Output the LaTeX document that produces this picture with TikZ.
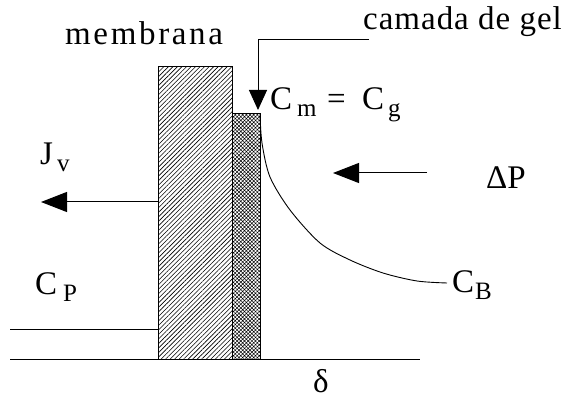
\documentclass[tikz,border=0pt]{standalone}
\usepackage{fontspec}
\setmainfont{Liberation Serif}
\newfontfamily\widefont{Liberation Serif}[LetterSpace=8]
\newfontfamily\tightfont{Liberation Serif}[LetterSpace=3]
\usetikzlibrary{arrows.meta,patterns.meta}
\newcommand\lowsub[1]{\raisebox{-7pt}{\fontsize{25}{25}\selectfont #1}}
\newcommand\at[2]{\rlap{#1}\hspace{#2}}
\tikzset{
  lbl/.style={font=\fontsize{33}{36}\selectfont, inner sep=0pt, anchor=base west},
  ln/.style={line width=1pt},
  bigtri/.style={-{Triangle[length=26pt,width=20pt]}},
  smalltri/.style={-{Triangle[length=20pt,width=18pt]}},
  layer/.style={draw, line width=1pt, inner sep=0pt, outer sep=0pt, anchor=south west},
}
\begin{document}
\begin{tikzpicture}[x=1pt,y=-1pt]
\useasboundingbox (0,0) rectangle (563,398);
% membrane and gel layer
\node[layer, minimum width=74pt, minimum height=293pt,
      pattern={Lines[angle=45,distance=3.2pt,line width=0.6pt]}] (mem) at (158,360) {};
\node[layer, minimum width=28pt, minimum height=246pt,
      pattern={Hatch[angle=45,distance=2.6pt,line width=0.5pt]}] (gel) at (232,360) {};
% base line and permeate level
\coordinate (bl) at (10,360);
\coordinate (br) at (420,360);
\draw[ln] (bl) -- (br);
\coordinate (cpl) at (10,330);
\draw[ln] (cpl) -- (mem.west |- cpl);
% flux arrows
\coordinate (jvtip) at (41,202);
\draw[ln, bigtri] (mem.west |- jvtip) -- (jvtip);
\coordinate (dps) at (427,173);
\coordinate (dpt) at (333,173);
\draw[ln, bigtri] (dps) -- (dpt);
% gel leader
\coordinate (gl) at (369,40);
\coordinate (gtip) at (258,110);
\draw[ln, smalltri] (gl) -| (gtip);
% concentration profile
\coordinate (cbend) at (447,283);
\draw[line width=0.9pt] plot[smooth] coordinates {(gel.north east) (262,143) (270,177) (290,210) (320,243) (350,260) (383,273) (417,281) (cbend)};
% labels
\node[lbl] (tmem) at (65,45) {\widefont membrana};
\node[lbl] (tgel) at (363,30) {\tightfont camada de gel};
\node[lbl] (tcm) at (270,110) {\at{C}{27pt}\at{\lowsub{m}}{30pt}\at{=}{35pt}\at{C}{26pt}\lowsub{g}};
\node[lbl] (tjv) at (40,165) {\at{J}{17pt}\lowsub{v}};
\node[lbl] (tdp) at (486,189) {ΔP};
\node[lbl] (tcb) at (452,293) {\at{C}{23pt}\lowsub{B}};
\node[lbl] (tcp) at (35,295) {\at{C}{28pt}\lowsub{P}};
\node[lbl] (td) at (313,392) {δ};
\end{tikzpicture}
\end{document}
